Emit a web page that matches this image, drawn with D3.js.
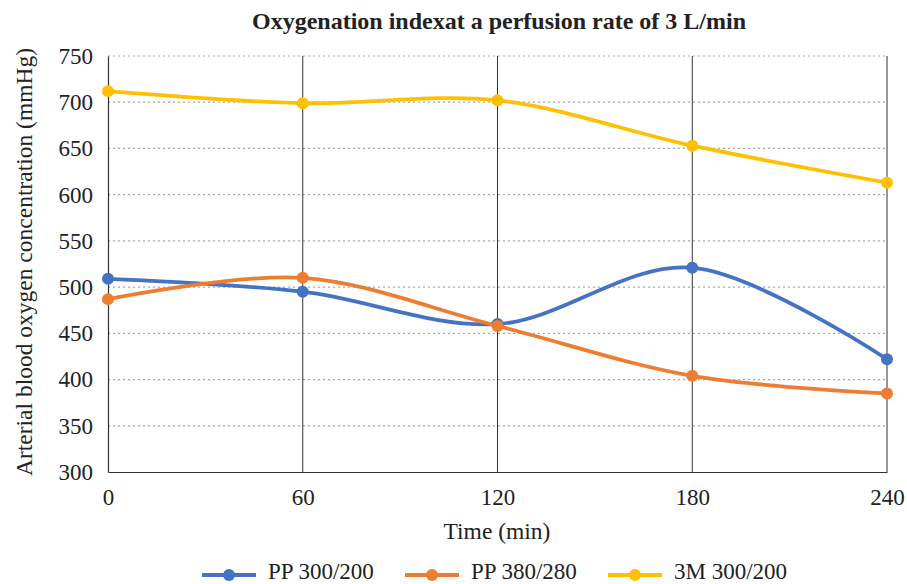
<!DOCTYPE html>
<html>
<head>
<meta charset="utf-8">
<script src="https://cdn.jsdelivr.net/npm/d3@7"></script>
<style>
  body { margin: 0; background: #fff; }
  text { font-family: "Liberation Serif", "Times New Roman", serif; fill: #222; }
</style>
</head>
<body>
<div id="chart"></div>
<script>
// data
const times = [0, 60, 120, 180, 240];
const yTicks = [300, 350, 400, 450, 500, 550, 600, 650, 700, 750];
const pp300 = [509, 495, 460, 521, 422];
const pp380 = [487, 510, 458, 404, 385];
const m3300 = [712, 699, 702, 653, 613];

const seriesNames = ["PP 300/200", "PP 380/280", "3M 300/200"];
const seriesValues = [pp300, pp380, m3300];
const seriesColors = ["#4472C4", "#ED7D31", "#FFC000"];

const W = 907, H = 584;
const margin = { top: 56, left: 108 };
const width = 887 - margin.left;
const height = 472 - margin.top;

const svg = d3.select("#chart").append("svg")
    .attr("width", W).attr("height", H);

const g = svg.append("g")
    .attr("transform", `translate(${margin.left},${margin.top})`);

const x = d3.scaleLinear().domain([0, 240]).range([0, width]);
const y = d3.scaleLinear().domain([300, 750]).range([height, 0]);

// horizontal dotted gridlines
g.append("g")
    .selectAll("line")
    .data(yTicks.filter(d => d > 300))
    .join("line")
    .attr("x1", 0).attr("x2", width)
    .attr("y1", d => y(d)).attr("y2", d => y(d))
    .attr("stroke", "#a6a6a6")
    .attr("stroke-width", 1.2)
    .attr("stroke-dasharray", "2,3");

// vertical solid lines at each time point
g.append("g")
    .selectAll("line")
    .data(times.filter(d => d > 0))
    .join("line")
    .attr("x1", d => x(d)).attr("x2", d => x(d))
    .attr("y1", 0).attr("y2", height)
    .attr("stroke", "#333")
    .attr("stroke-width", 1);

// axes
const yAxis = g.append("g")
    .call(d3.axisLeft(y).tickValues(yTicks).tickSize(0).tickPadding(15));
yAxis.select(".domain").attr("stroke", "#333").attr("stroke-width", 1.2);
yAxis.selectAll("text").style("font-size", "23px").attr("fill", "#222");

const xAxis = g.append("g")
    .attr("transform", `translate(0,${height})`)
    .call(d3.axisBottom(x).tickValues(times).tickSize(0).tickPadding(17));
xAxis.select(".domain").attr("stroke", "#333").attr("stroke-width", 1.2);
xAxis.selectAll("text").style("font-size", "23px").attr("fill", "#222");

// lines and markers
const line = d3.line()
    .x((d, i) => x(times[i]))
    .y(d => y(d))
    .curve(d3.curveCardinal.tension(0));

seriesValues.forEach((vals, s) => {
    g.append("path")
        .datum(vals)
        .attr("d", line)
        .attr("fill", "none")
        .attr("stroke", seriesColors[s])
        .attr("stroke-width", 3.8)
        .attr("stroke-linecap", "round");
    g.append("g")
        .selectAll("circle")
        .data(vals)
        .join("circle")
        .attr("cx", (d, i) => x(times[i]))
        .attr("cy", d => y(d))
        .attr("r", 6)
        .attr("fill", seriesColors[s]);
});

// title & axis labels
svg.append("text")
    .attr("x", 499).attr("y", 29)
    .attr("text-anchor", "middle")
    .style("font-size", "24px").style("font-weight", "bold")
    .text("Oxygenation indexat a perfusion rate of 3 L/min");

svg.append("text")
    .attr("x", 497).attr("y", 539)
    .attr("text-anchor", "middle")
    .style("font-size", "23.5px")
    .text("Time (min)");

svg.append("text")
    .attr("transform", "translate(32,262) rotate(-90)")
    .attr("text-anchor", "middle")
    .style("font-size", "23.5px")
    .text("Arterial blood oxygen concentration (mmHg)");

// legend (kept a touch higher so descenders stay inside the frame)
const legendX = [202, 405, 608];
const legend = svg.append("g");
seriesNames.forEach((name, s) => {
    const lg = legend.append("g").attr("transform", `translate(${legendX[s]},575)`);
    lg.append("line")
        .attr("x1", 0).attr("x2", 54)
        .attr("stroke", seriesColors[s]).attr("stroke-width", 3.8);
    lg.append("circle").attr("cx", 27).attr("r", 6).attr("fill", seriesColors[s]);
    lg.append("text")
        .attr("x", 66).attr("y", 4)
        .style("font-size", "23px")
        .text(name);
});
</script>
</body>
</html>
